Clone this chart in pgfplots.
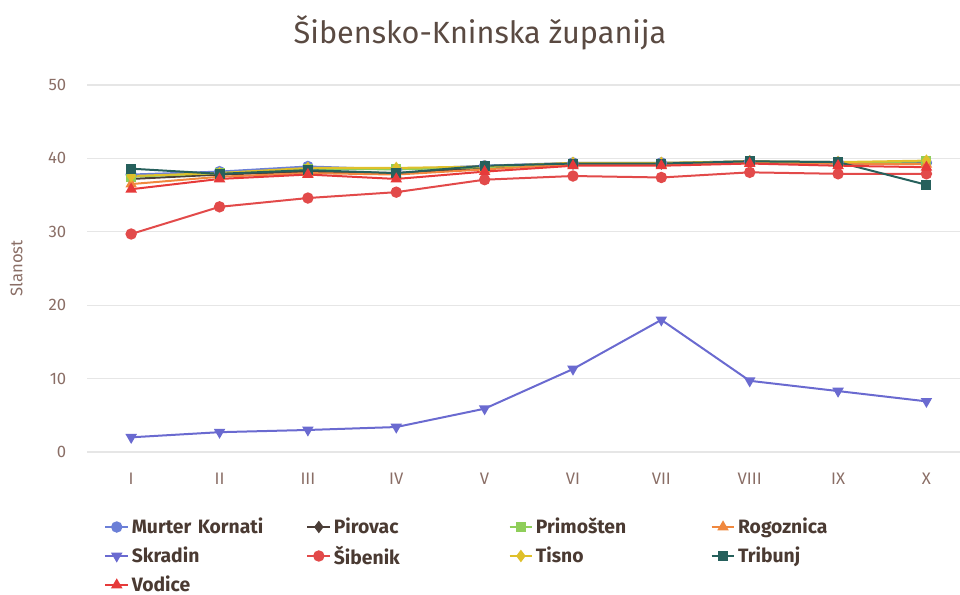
\documentclass[border=0pt]{standalone}
\usepackage{fontspec}
\setmainfont{Fira Sans}
\usepackage{pgfplots}
\pgfplotsset{compat=1.18}

\definecolor{cMurter}{HTML}{6B7FD7}
\definecolor{cPirovac}{HTML}{4B3E38}
\definecolor{cPrimosten}{HTML}{8FCE5A}
\definecolor{cRogoznica}{HTML}{F0883E}
\definecolor{cSkradin}{HTML}{6A6AD0}
\definecolor{cSibenik}{HTML}{E24A4A}
\definecolor{cTisno}{HTML}{DFC02A}
\definecolor{cTribunj}{HTML}{26605C}
\definecolor{cVodice}{HTML}{E63A3A}
\definecolor{ctitle}{HTML}{5A4A42}
\definecolor{cticks}{HTML}{8A6E66}
\definecolor{clegend}{HTML}{4A3A32}
\definecolor{cgrid}{HTML}{E6E6E6}

\begin{document}
\begin{tikzpicture}
\begin{axis}[
  name=ax,
  scale only axis,
  width=654.75pt, height=275.25pt,
  xmin=-0.5, xmax=9.38, ymin=0, ymax=50,
  xtick={0,...,9},
  xticklabels={I,II,III,IV,V,VI,VII,VIII,IX,X},
  ytick={0,10,...,50},
  axis line style={draw=none},
  major tick length=0pt,
  ymajorgrids, grid style={cgrid, line width=0.8pt},
  tick label style={font=\fontsize{12.5}{14}\selectfont, text=cticks},
  /pgf/number format/assume math mode=true,
  xticklabel style={yshift=-12pt},
  yticklabel style={xshift=-12pt},
  ylabel={Slanost},
  ylabel style={font=\fontsize{12.5}{14}\selectfont, text=cticks, at={(axis description cs:-0.081,0.5)}, anchor=center},
  every axis plot/.append style={line width=1.5pt, mark size=3.5pt},
  legend columns=4,
  legend cell align=left,
  legend style={at={(0.015,-0.165)}, anchor=north west, draw=none,
    font=\bfseries\fontsize{14.5}{16}\selectfont, text=clegend,
    row sep=3.5pt,
    /tikz/every even column/.append style={text width=129pt}},
  legend image code/.code={
    \draw[mark repeat=2,mark phase=2] plot coordinates {(0cm,0cm) (0.3cm,0cm) (0.6cm,0cm)};
  },
]
\addplot[color=cMurter, mark=*] coordinates {(0,37.8)(1,38.2)(2,38.9)(3,38.5)(4,39.0)(5,39.4)(6,39.4)(7,39.6)(8,39.5)(9,39.4)};
\addlegendentry{Murter Kornati}
\addplot[color=cPirovac, mark=diamond*] coordinates {(0,37.2)(1,37.8)(2,38.2)(3,38.0)(4,38.7)(5,39.3)(6,39.3)(7,39.6)(8,39.3)(9,39.3)};
\addlegendentry{Pirovac}
\addplot[color=cPrimosten, mark=square*, mark size=3pt] coordinates {(0,37.5)(1,38.0)(2,38.6)(3,38.5)(4,38.8)(5,39.3)(6,39.3)(7,39.5)(8,39.4)(9,39.6)};
\addlegendentry{Primošten}
\addplot[color=cRogoznica, mark=triangle*] coordinates {(0,36.5)(1,37.5)(2,38.0)(3,37.8)(4,38.5)(5,39.2)(6,39.2)(7,39.5)(8,39.3)(9,39.2)};
\addlegendentry{Rogoznica}
\addplot[color=cSkradin, mark=triangle*, mark options={rotate=180}] coordinates {(0,2.0)(1,2.7)(2,3.0)(3,3.4)(4,5.9)(5,11.3)(6,18.0)(7,9.7)(8,8.3)(9,6.9)};
\addlegendentry{Skradin}
\addplot[color=cSibenik, mark=*] coordinates {(0,29.7)(1,33.4)(2,34.6)(3,35.4)(4,37.1)(5,37.6)(6,37.4)(7,38.1)(8,37.9)(9,37.9)};
\addlegendentry{Šibenik}
\addplot[color=cTisno, mark=diamond*] coordinates {(0,37.6)(1,38.0)(2,38.7)(3,38.7)(4,38.9)(5,39.4)(6,39.4)(7,39.6)(8,39.5)(9,39.7)};
\addlegendentry{Tisno}
\addplot[color=cTribunj, mark=square*, mark size=3pt] coordinates {(0,38.6)(1,37.9)(2,38.4)(3,38.0)(4,39.0)(5,39.3)(6,39.3)(7,39.6)(8,39.5)(9,36.4)};
\addlegendentry{Tribunj}
\addplot[color=cVodice, mark=triangle*] coordinates {(0,35.8)(1,37.2)(2,37.8)(3,37.2)(4,38.2)(5,39.0)(6,39.0)(7,39.3)(8,39.0)(9,38.8)};
\addlegendentry{Vodice}
\end{axis}
\node[font=\fontsize{23}{26}\selectfont, text=ctitle] at ([xshift=294.75pt,yshift=314.25pt]ax.south west) {Šibensko-Kninska županija};
\pgfresetboundingbox
\path ([xshift=-65.25pt,yshift=-107.25pt]ax.south west) rectangle ([xshift=654.75pt,yshift=339pt]ax.south west);
\end{tikzpicture}
\end{document}
